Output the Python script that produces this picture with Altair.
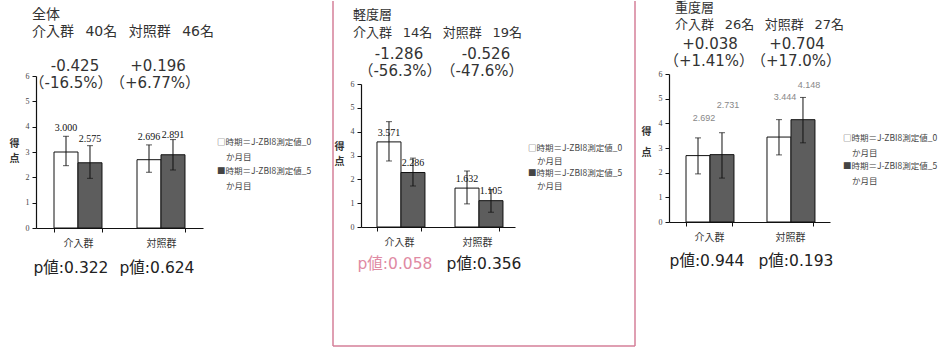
import altair as alt
import pandas as pd

# ---------------- data ----------------
panel_names = ["全体", "軽度層", "重度層"]
groups = ["介入群", "対照群"]
periods = ["時期＝J-ZBI8測定値_0か月目", "時期＝J-ZBI8測定値_5か月目"]
n_counts = [[40, 46], [14, 19], [26, 27]]
mean_0m = [[3.000, 2.696], [3.571, 1.632], [2.692, 3.444]]
mean_5m = [[2.575, 2.891], [2.286, 1.105], [2.731, 4.148]]
lo_0m = [[2.46, 2.20], [2.77, 0.97], [1.95, 2.72]]
hi_0m = [[3.62, 3.28], [4.42, 2.35], [3.41, 4.15]]
lo_5m = [[1.96, 2.29], [1.72, 0.62], [1.78, 3.21]]
hi_5m = [[3.25, 3.49], [2.89, 1.57], [3.62, 5.05]]
change = [["-0.425", "+0.196"], ["-1.286", "-0.526"], ["+0.038", "+0.704"]]
change_pct = [["（-16.5%）", "（+6.77%）"], ["（-56.3%）", "（-47.6%）"], ["（+1.41%）", "（+17.0%）"]]
p_values = [[0.322, 0.624], [0.058, 0.356], [0.944, 0.193]]
y_ticks = [0, 1, 2, 3, 4, 5, 6]

# ---------------- style / layout ----------------
FONT = "DejaVu Sans, Noto Sans CJK JP, sans-serif"
CJK = "Noto Sans CJK JP"
GAP = "\u00a0\u2002"
H = 348
layouts = [
    dict(width=333, x_range=[36, 203], pad_in=0.422, pad_out=0.217, y_range=[227, 75],
         title_x=32, title_y=14, count_y=31, head_size=14, change_y=65, pct_y=82,
         change_dx=[-3, -3], pct_dx=[-7, -6], p_dx=[-7, -4],
         p_y=267, legend_x=217, legend_y=[141, 156, 170, 185],
         ytitle=(-22, 142, 15), lab_field="hi", lab_dy=[-8, -7, -8, -5], lab_dx=0,
         lab_font="Liberation Serif", lab_size=10, lab_color="#111"),
    dict(width=307, x_range=[28, 182], pad_in=0.436, pad_out=0.205, y_range=[226, 83],
         title_x=20, title_y=14, count_y=32, head_size=13, change_y=53, pct_y=70,
         change_dx=[0, 9], pct_dx=[1, 5], p_dx=[-4, 7],
         p_y=263, legend_x=195, legend_y=[147, 160, 172, 185],
         ytitle=(-22, 145, 15), lab_field="mean", lab_dy=[-9, -10, -9, -10], lab_dx=0,
         lab_font="Liberation Serif", lab_size=10, lab_color="#111"),
    dict(width=303, x_range=[29, 190], pad_in=0.432, pad_out=0.21, y_range=[221, 73],
         title_x=35, title_y=7, count_y=24, head_size=13, change_y=43, pct_y=60,
         change_dx=[1, 7], pct_dx=[0, 6], p_dx=[-2, 6],
         p_y=260, legend_x=203, legend_y=[137, 152, 165, 180],
         ytitle=(-23, 130, 21), lab_field="hi", lab_dy=[-20, -28, -23, -12], lab_dx=6,
         lab_font="Liberation Sans", lab_size=9, lab_color="#888"),
]
PINK = "#e08aa3"
BOX = "#d47f98"


def make_panel(i):
    L = layouts[i]
    rows = []
    for gi, g in enumerate(groups):
        for pi, (p, m, lo, hi) in enumerate(zip(periods, [mean_0m, mean_5m], [lo_0m, lo_5m], [hi_0m, hi_5m])):
            rows.append(dict(group=g, period=p, mean=m[i][gi], lo=lo[i][gi], hi=hi[i][gi],
                             label=f"{m[i][gi]:.3f}"))
    df = pd.DataFrame(rows)

    x_enc = alt.X("group:N", sort=groups,
                  scale=alt.Scale(domain=groups, range=L["x_range"],
                                  paddingInner=L["pad_in"], paddingOuter=L["pad_out"]),
                  axis=alt.Axis(title=None, orient="bottom", offset=-(H - L["y_range"][0]),
                                tickBand="extent", labelAngle=0, domainColor="#111", domainWidth=1.2,
                                tickColor="#111", tickSize=4, labelFont=CJK, labelFontSize=10,
                                labelColor="#333", labelPadding=6, grid=False))
    xo_enc = alt.XOffset("period:N", sort=periods,
                         scale=alt.Scale(domain=periods, paddingInner=0, paddingOuter=0))
    y_scale = alt.Scale(domain=[0, 6], range=L["y_range"], nice=False, zero=True)
    y_axis = alt.Axis(values=y_ticks, offset=-L["x_range"][0], grid=False, domainColor="#111",
                      domainWidth=1.2, tickColor="#111", tickSize=4, labelFont="Liberation Serif",
                      labelFontSize=8, labelColor="#444", labelPadding=3,
                      title=["得", "点"], titleAngle=0, titleX=L["ytitle"][0], titleY=L["ytitle"][1],
                      titleLineHeight=L["ytitle"][2], titleFont=CJK, titleFontSize=10,
                      titleFontWeight="bold", titleColor="#333", titleAlign="center",
                      titleBaseline="middle")

    base = alt.Chart(df)
    bars = base.mark_bar(stroke="#111", strokeWidth=1).encode(
        x=x_enc, xOffset=xo_enc,
        y=alt.Y("mean:Q", scale=y_scale, axis=y_axis),
        fill=alt.Fill("period:N", scale=alt.Scale(domain=periods, range=["#ffffff", "#5d5d5d"]),
                      legend=None),
    )
    err = base.mark_rule(color="#111", strokeWidth=1).encode(
        x=x_enc, xOffset=xo_enc,
        y=alt.Y("lo:Q", scale=y_scale, axis=y_axis), y2="hi:Q")
    cap_lo = base.mark_tick(color="#111", size=6, thickness=1, orient="horizontal").encode(
        x=x_enc, xOffset=xo_enc, y=alt.Y("lo:Q", scale=y_scale, axis=y_axis))
    cap_hi = base.mark_tick(color="#111", size=6, thickness=1, orient="horizontal").encode(
        x=x_enc, xOffset=xo_enc, y=alt.Y("hi:Q", scale=y_scale, axis=y_axis))

    layers = [bars, err, cap_lo, cap_hi]

    # value labels
    for k in range(len(df)):
        layers.append(
            alt.Chart(df.iloc[[k]]).mark_text(
                font=L["lab_font"], fontSize=L["lab_size"], color=L["lab_color"],
                dy=L["lab_dy"][k], dx=L["lab_dx"], baseline="middle").encode(
                x=x_enc, xOffset=xo_enc,
                y=alt.Y(f"{L['lab_field']}:Q", scale=y_scale, axis=y_axis),
                text="label:N"))

    # header texts (change, % change, p value) per group
    head = pd.DataFrame({
        "group": groups,
        "change": change[i],
        "pct": change_pct[i],
        "ptxt": [f"p値:{v:.3f}" for v in p_values[i]],
        "pcol": [PINK if v < 0.1 else "#222" for v in p_values[i]],
    })
    for gi in range(len(groups)):
        hb = alt.Chart(head.iloc[[gi]])
        layers.append(hb.mark_text(font=FONT, fontSize=15, color="#333", dx=L["change_dx"][gi]).encode(
            x=x_enc, y=alt.value(L["change_y"]), text="change:N"))
        layers.append(hb.mark_text(font=FONT, fontSize=15, color="#333", dx=L["pct_dx"][gi]).encode(
            x=x_enc, y=alt.value(L["pct_y"]), text="pct:N"))
        layers.append(hb.mark_text(font=FONT, fontSize=15.5, dx=L["p_dx"][gi]).encode(
            x=x_enc, y=alt.value(L["p_y"]), text="ptxt:N", color=alt.Color("pcol:N", scale=None)))

    title_df = pd.DataFrame({
        "t": [panel_names[i],
              f"{groups[0]}{GAP}{n_counts[i][0]}名{GAP}{groups[1]}{GAP}{n_counts[i][1]}名"]})
    layers.append(alt.Chart(title_df.iloc[[0]]).mark_text(
        font=FONT, fontSize=L["head_size"], color="#333", align="left").encode(
        x=alt.value(L["title_x"]), y=alt.value(L["title_y"]), text="t:N"))
    layers.append(alt.Chart(title_df.iloc[[1]]).mark_text(
        font=FONT, fontSize=L["head_size"], color="#333", align="left").encode(
        x=alt.value(L["title_x"]), y=alt.value(L["count_y"]), text="t:N"))

    # legend
    glyphs = ["□", "■"]
    for k, p in enumerate(periods):
        leg = pd.DataFrame({"t": [glyphs[k] + p[:-3], p[-3:]]})
        layers.append(alt.Chart(leg.iloc[[0]]).mark_text(
            font=CJK, fontSize=8.5, color="#444", align="left").encode(
            x=alt.value(L["legend_x"]), y=alt.value(L["legend_y"][2 * k]), text="t:N"))
        layers.append(alt.Chart(leg.iloc[[1]]).mark_text(
            font=CJK, fontSize=8.5, color="#444", align="left").encode(
            x=alt.value(L["legend_x"] + 9), y=alt.value(L["legend_y"][2 * k + 1]), text="t:N"))

    if i == 1:
        edge = pd.DataFrame({"e": [0]})
        eb = alt.Chart(edge)
        layers.append(eb.mark_rule(color=BOX, strokeWidth=1.5).encode(
            x=alt.value(0), y=alt.value(0), y2=alt.value(345)))
        layers.append(eb.mark_rule(color=BOX, strokeWidth=1.5).encode(
            x=alt.value(302), y=alt.value(0), y2=alt.value(345)))
        layers.append(eb.mark_rule(color=BOX, strokeWidth=1.5).encode(
            x=alt.value(0), x2=alt.value(302), y=alt.value(345)))

    return alt.layer(*layers).properties(
        width=L["width"], height=H,
        view=alt.ViewBackground(stroke="transparent", strokeWidth=0))


chart = alt.hconcat(*[make_panel(i) for i in range(3)], spacing=0, bounds="flush", padding=0)
chart = chart.configure_view(stroke="transparent", strokeWidth=0).configure(background="white")
chart.save("out.html", embed_options={"renderer": "svg", "actions": False})
